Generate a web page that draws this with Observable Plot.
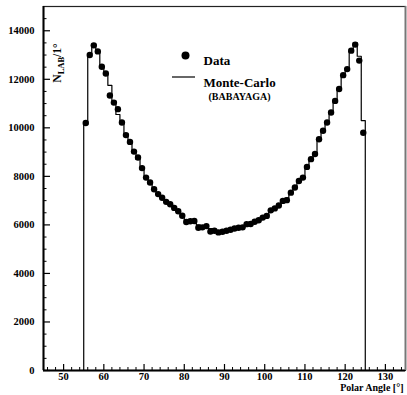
<!DOCTYPE html>
<html><head><meta charset="utf-8">
<script src="https://cdn.jsdelivr.net/npm/d3@7"></script>
<script src="https://cdn.jsdelivr.net/npm/@observablehq/plot@0.6"></script>
<style>
body{margin:0;background:#fff}
svg, svg text { font-family: "Liberation Serif", "Times New Roman", serif !important; font-weight: bold; }
</style>
</head><body><div id="chart"></div>
<script>
// Bin lower edges (1° bins from 55 to 125)
const binStart = 55;
const dataValues = [10200,13000,13400,13150,12520,12240,11330,11040,10770,10220,
  9700,9420,9020,8780,8340,7950,7750,7470,7270,7120,
  6950,6850,6700,6560,6380,6120,6150,6160,5880,5900,
  5950,5730,5760,5690,5720,5760,5800,5850,5880,5900,
  6030,6040,6130,6190,6300,6370,6600,6680,6800,6990,
  7020,7330,7540,7810,7950,8390,8710,8920,9530,9880,
  10220,10630,11110,11600,12170,12420,13180,13430,12770,9800];
const mcValues = [10150,13050,13450,13150,12500,12250,11750,11100,10550,10200,
  9750,9400,9050,8700,8300,7950,7700,7450,7250,7100,
  6950,6850,6700,6550,6350,6200,6150,6100,6000,5950,
  5900,5850,5800,5750,5750,5750,5800,5850,5900,5950,
  6000,6050,6100,6200,6300,6400,6550,6700,6800,6950,
  7100,7300,7550,7800,8000,8350,8650,8950,9500,9850,
  10250,10650,11100,11600,12100,12450,13150,13500,12950,10300];
const xMajor = [50,60,70,80,90,100,110,120,130];
const xMinor = [46,48,52,54,56,58,62,64,66,68,72,74,76,78,82,84,86,88,92,94,96,98,102,104,106,108,112,114,116,118,122,124,126,128,132,134];
const yMajor = [0,2000,4000,6000,8000,10000,12000,14000];
const yMinor = d3.range(500,15000,500).filter(v => v % 2000 !== 0);
const legendLabels = ["Data","Monte-Carlo","(BABAYAGA)"];
const xTitle = "Polar Angle [°]";

const points = dataValues.map((v,i)=>({x: binStart + i + 0.5, y: v}));
const steps = [{x: binStart, y: 0}]
  .concat(mcValues.map((v,i)=>({x: binStart + i, y: v})))
  .concat([{x: binStart + mcValues.length, y: mcValues[mcValues.length-1]}, {x: binStart + mcValues.length, y: 0}]);

const W = 407, H = 395, mL = 43, mR = 2, mT = 6, mB = 25;
const pw = W - mL - mR, ph = H - mT - mB;

const chart = Plot.plot({
  width: W, height: H,
  marginLeft: mL, marginRight: mR, marginTop: mT, marginBottom: mB,
  style: {fontSize: "10.5px", background: "#fff", color: "#000"},
  x: {domain: [45,135]},
  y: {domain: [0,15000]},
  marks: [
    Plot.frame({stroke: "#222", strokeWidth: 1.2}),
    Plot.ruleY([0], {strokeWidth: 2}),
    Plot.ruleX([45], {strokeWidth: 2}),
    Plot.ruleX([135], {strokeWidth: 1.8, stroke: "#777"}),
    Plot.ruleX(xMajor, {insetTop: ph - 6, strokeWidth: 1.2}),
    Plot.ruleX(xMinor, {insetTop: ph - 3, strokeWidth: 1}),
    Plot.ruleY(yMajor, {insetRight: pw - 7, strokeWidth: 1.2}),
    Plot.ruleY(yMinor, {insetRight: pw - 3.5, strokeWidth: 1}),
    Plot.axisX({ticks: xMajor, tickSize: 0, tickPadding: 2, label: null, tickFormat: d => String(d)}),
    Plot.axisY({ticks: yMajor, tickSize: 0, tickPadding: 9, label: null, tickFormat: d => String(d)}),
    Plot.line(steps, {x: "x", y: "y", curve: "step-after", stroke: "#000", strokeWidth: 1.2}),
    Plot.dot(points, {x: "x", y: "y", r: 3.2, fill: "#000", stroke: null}),
    // legend
    Plot.dot([0], {frameAnchor: "top-left", dx: 142, dy: 49, r: 4, fill: "#000"}),
    Plot.text([legendLabels[0]], {frameAnchor: "top-left", dx: 160, dy: 49, text: d => d, textAnchor: "start", fontSize: 13}),
    Plot.text([legendLabels[1]], {frameAnchor: "top-left", dx: 160, dy: 71, text: d => d, textAnchor: "start", fontSize: 13}),
    Plot.text([legendLabels[2]], {frameAnchor: "top-left", dx: 165, dy: 86, text: d => d, textAnchor: "start", fontSize: 10}),
    Plot.text([xTitle], {frameAnchor: "bottom-right", dy: 20.5, dx: -2, text: d => d, textAnchor: "end", fontSize: 10})
  ]
});

const svg = d3.select(chart);
// legend line sample
svg.append("line").attr("x1", mL + 129).attr("x2", mL + 152).attr("y1", mT + 71).attr("y2", mT + 71)
  .attr("stroke", "#000").attr("stroke-width", 1.2);
// y title with subscript
const yt = svg.append("text")
  .attr("transform", `translate(${mL + 18},${mT + 57}) rotate(-90)`)
  .attr("font-size", 11.5);
yt.append("tspan").text("N");
yt.append("tspan").attr("font-size", 8.5).attr("dy", 2.5).text("LAB");
yt.append("tspan").attr("dy", -2.5).text("/1°");

document.getElementById("chart").appendChild(chart);
</script>
</body></html>
